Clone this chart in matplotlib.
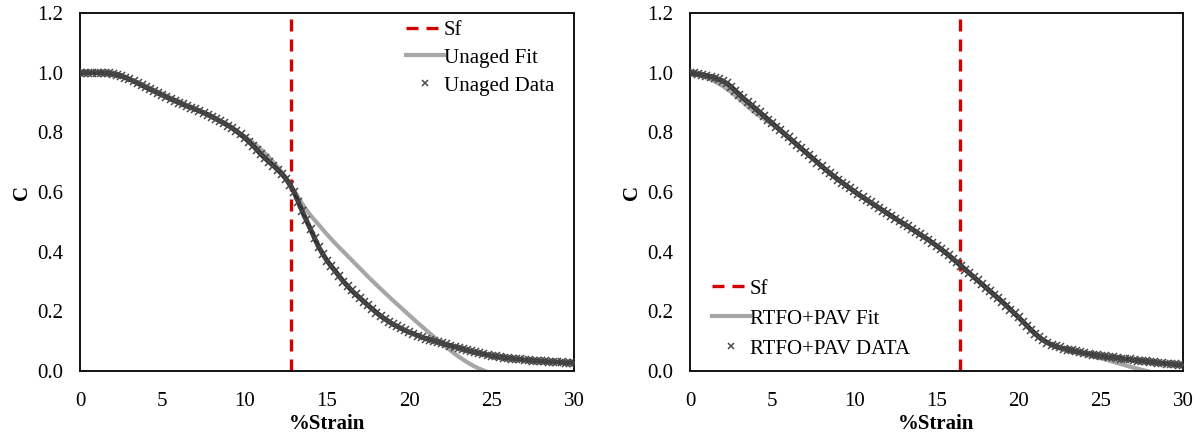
import matplotlib
matplotlib.use("Agg")
import matplotlib.pyplot as plt

plt.rcParams['font.family'] = ['Liberation Serif', 'DejaVu Serif']

# strain grid of the measured data (%)
strain = [
    0.0, 0.25, 0.5, 0.75, 1.0, 1.25, 1.5, 1.75, 2.0, 2.25, 2.5, 2.75,
    3.0, 3.25, 3.5, 3.75, 4.0, 4.25, 4.5, 4.75, 5.0, 5.25, 5.5, 5.75,
    6.0, 6.25, 6.5, 6.75, 7.0, 7.25, 7.5, 7.75, 8.0, 8.25, 8.5, 8.75,
    9.0, 9.25, 9.5, 9.75, 10.0, 10.25, 10.5, 10.75, 11.0, 11.25, 11.5, 11.75,
    12.0, 12.25, 12.5, 12.75, 13.0, 13.25, 13.5, 13.75, 14.0, 14.25, 14.5, 14.75,
    15.0, 15.25, 15.5, 15.75, 16.0, 16.25, 16.5, 16.75, 17.0, 17.25, 17.5, 17.75,
    18.0, 18.25, 18.5, 18.75, 19.0, 19.25, 19.5, 19.75, 20.0, 20.25, 20.5, 20.75,
    21.0, 21.25, 21.5, 21.75, 22.0, 22.25, 22.5, 22.75, 23.0, 23.25, 23.5, 23.75,
    24.0, 24.25, 24.5, 24.75, 25.0, 25.25, 25.5, 25.75, 26.0, 26.25, 26.5, 26.75,
    27.0, 27.25, 27.5, 27.75, 28.0, 28.25, 28.5, 28.75, 29.0, 29.25, 29.5, 29.75,
    30.0,
]

unaged_data = [
    1.000, 1.000, 1.000, 1.000, 1.000, 1.000, 0.999, 0.998,
    0.996, 0.993, 0.990, 0.984, 0.978, 0.972, 0.965, 0.958,
    0.951, 0.944, 0.938, 0.931, 0.925, 0.918, 0.912, 0.906,
    0.900, 0.894, 0.888, 0.883, 0.878, 0.872, 0.866, 0.860,
    0.853, 0.846, 0.838, 0.831, 0.823, 0.814, 0.804, 0.793,
    0.782, 0.769, 0.756, 0.741, 0.726, 0.713, 0.700, 0.688,
    0.675, 0.661, 0.645, 0.624, 0.600, 0.568, 0.535, 0.505,
    0.475, 0.445, 0.415, 0.392, 0.370, 0.352, 0.335, 0.317,
    0.300, 0.285, 0.270, 0.257, 0.245, 0.232, 0.220, 0.208,
    0.196, 0.185, 0.175, 0.166, 0.157, 0.150, 0.143, 0.136,
    0.130, 0.125, 0.119, 0.114, 0.109, 0.105, 0.101, 0.097,
    0.093, 0.089, 0.085, 0.081, 0.078, 0.074, 0.070, 0.066,
    0.063, 0.060, 0.057, 0.054, 0.051, 0.049, 0.047, 0.045,
    0.043, 0.042, 0.040, 0.039, 0.037, 0.036, 0.035, 0.034,
    0.033, 0.032, 0.031, 0.031, 0.030, 0.029, 0.028, 0.028,
    0.027,
]

aged_data = [
    1.000, 0.998, 0.995, 0.993, 0.990, 0.987, 0.983, 0.978,
    0.972, 0.964, 0.953, 0.940, 0.927, 0.914, 0.903, 0.891,
    0.879, 0.867, 0.855, 0.843, 0.831, 0.819, 0.807, 0.795,
    0.783, 0.771, 0.759, 0.747, 0.735, 0.723, 0.711, 0.699,
    0.687, 0.675, 0.664, 0.653, 0.642, 0.632, 0.622, 0.612,
    0.602, 0.592, 0.583, 0.574, 0.565, 0.556, 0.547, 0.538,
    0.529, 0.520, 0.511, 0.502, 0.494, 0.485, 0.476, 0.467,
    0.458, 0.449, 0.440, 0.430, 0.420, 0.410, 0.399, 0.388,
    0.376, 0.364, 0.352, 0.340, 0.328, 0.316, 0.304, 0.292,
    0.280, 0.268, 0.256, 0.244, 0.232, 0.219, 0.206, 0.193,
    0.180, 0.166, 0.152, 0.138, 0.125, 0.113, 0.103, 0.095,
    0.088, 0.083, 0.079, 0.075, 0.072, 0.069, 0.066, 0.063,
    0.060, 0.058, 0.055, 0.053, 0.051, 0.049, 0.047, 0.046,
    0.044, 0.042, 0.040, 0.039, 0.037, 0.035, 0.034, 0.032,
    0.031, 0.029, 0.028, 0.026, 0.025, 0.024, 0.022, 0.021,
    0.020,
]

# fitted curves
unaged_fit_x = [
    0.0, 0.5, 1.0, 1.5, 2.0, 2.5, 3.0, 3.5, 4.0, 4.5, 5.0, 5.5, 6.0,
    6.5, 7.0, 7.5, 8.0, 8.5, 9.0, 9.5, 10.0, 10.5, 11.0, 11.5, 12.0,
    12.5, 13.0, 13.5, 14.0, 14.5, 15.0, 15.5, 16.0, 16.5, 17.0, 17.5,
    18.0, 18.5, 19.0, 19.5, 20.0, 20.5, 21.0, 21.5, 22.0, 22.5, 23.0,
    23.5, 24.0, 24.5, 25.0,
]
unaged_fit = [
    1.000, 1.000, 0.999, 0.997, 0.993, 0.987, 0.979, 0.968, 0.956, 0.943,
    0.930, 0.917, 0.904, 0.891, 0.878, 0.865, 0.851, 0.837, 0.822, 0.805,
    0.787, 0.766, 0.742, 0.715, 0.684, 0.649, 0.605, 0.560, 0.522, 0.490,
    0.458, 0.428, 0.400, 0.372, 0.344, 0.316, 0.289, 0.263, 0.237, 0.212,
    0.187, 0.162, 0.138, 0.114, 0.091, 0.069, 0.048, 0.030, 0.014, 0.002,
    -0.010,
]

aged_fit_x = [
    0.0, 0.5, 1.0, 1.5, 2.0, 2.5, 3.0, 3.5, 4.0, 4.5, 5.0, 5.5, 6.0,
    6.5, 7.0, 7.5, 8.0, 8.5, 9.0, 9.5, 10.0, 10.5, 11.0, 11.5, 12.0,
    12.5, 13.0, 13.5, 14.0, 14.5, 15.0, 15.5, 16.0, 16.5, 17.0, 17.5,
    18.0, 18.5, 19.0, 19.5, 20.0, 20.5, 21.0, 21.5, 22.0, 22.5, 23.0,
    23.5, 24.0, 24.5, 25.0, 25.5, 26.0, 26.5, 27.0, 27.5, 28.0,
]
aged_fit = [
    1.000, 0.993, 0.984, 0.971, 0.955, 0.935, 0.912, 0.888, 0.864, 0.845,
    0.826, 0.806, 0.784, 0.760, 0.736, 0.712, 0.688, 0.665, 0.643, 0.622,
    0.602, 0.583, 0.564, 0.546, 0.528, 0.510, 0.493, 0.476, 0.458, 0.440,
    0.420, 0.399, 0.376, 0.352, 0.328, 0.304, 0.280, 0.256, 0.231, 0.205,
    0.179, 0.152, 0.126, 0.104, 0.087, 0.076, 0.068, 0.061, 0.055, 0.049,
    0.043, 0.035, 0.027, 0.019, 0.011, 0.004, -0.003,
]

sf_unaged = 12.8
sf_aged = 16.4

panels = [
    (unaged_fit_x, unaged_fit, unaged_data, sf_unaged,
     'Unaged Fit', 'Unaged Data', 'upper right', (0.985, 1.015), 0.4),
    (aged_fit_x, aged_fit, aged_data, sf_aged,
     'RTFO+PAV Fit', 'RTFO+PAV DATA', 'lower left', (0.02, 0.0), 0.5),
]

fig = plt.figure(figsize=(12.02, 4.36), dpi=100)
ax1 = fig.add_axes([0.0666, 0.149, 0.4109, 0.821])
ax2 = fig.add_axes([0.5741, 0.149, 0.4101, 0.821])

for ax, (fx, fy, dy, sf, fit_lab, data_lab, loc, anchor, lsp) in zip([ax1, ax2], panels):
    ax.axvline(sf, color='#d00000', lw=2.4, dashes=(3.6, 2.4), label='Sf', zorder=1)
    ax.plot(fx, fy, color='#a6a6a6', lw=3, label=fit_lab, zorder=2)
    ax.plot(strain, dy, color='#303030', lw=3.5, zorder=3)
    ax.plot(strain, dy, ls='none', marker='x', ms=6.0, mew=1.1,
            color='#484848', label=data_lab, zorder=4)

    ax.set_xlim(0, 30)
    ax.set_ylim(0, 1.2)
    ax.set_xticks([0, 5, 10, 15, 20, 25, 30])
    ax.set_yticks([0.0, 0.2, 0.4, 0.6, 0.8, 1.0, 1.2])
    ax.set_yticklabels(['0.0', '0.2', '0.4', '0.6', '0.8', '1.0', '1.2'])
    ax.tick_params(length=0, labelsize=15, pad=12)
    ax.tick_params(axis='x', pad=15)
    for s in ax.spines.values():
        s.set_linewidth(1.4)
        s.set_color('#111111')
    ax.set_xlabel('%Strain', fontsize=15, fontweight='bold', labelpad=2)
    ax.set_ylabel('C', fontsize=15, fontweight='bold', labelpad=4)

    h, l = ax.get_legend_handles_labels()
    ax.legend(h, l, loc=loc, bbox_to_anchor=anchor, frameon=False,
              fontsize=15, handlelength=1.8, handletextpad=0.0,
              labelspacing=lsp, borderaxespad=0.2, markerscale=0.7)

fig.savefig('out.png', dpi=100)
